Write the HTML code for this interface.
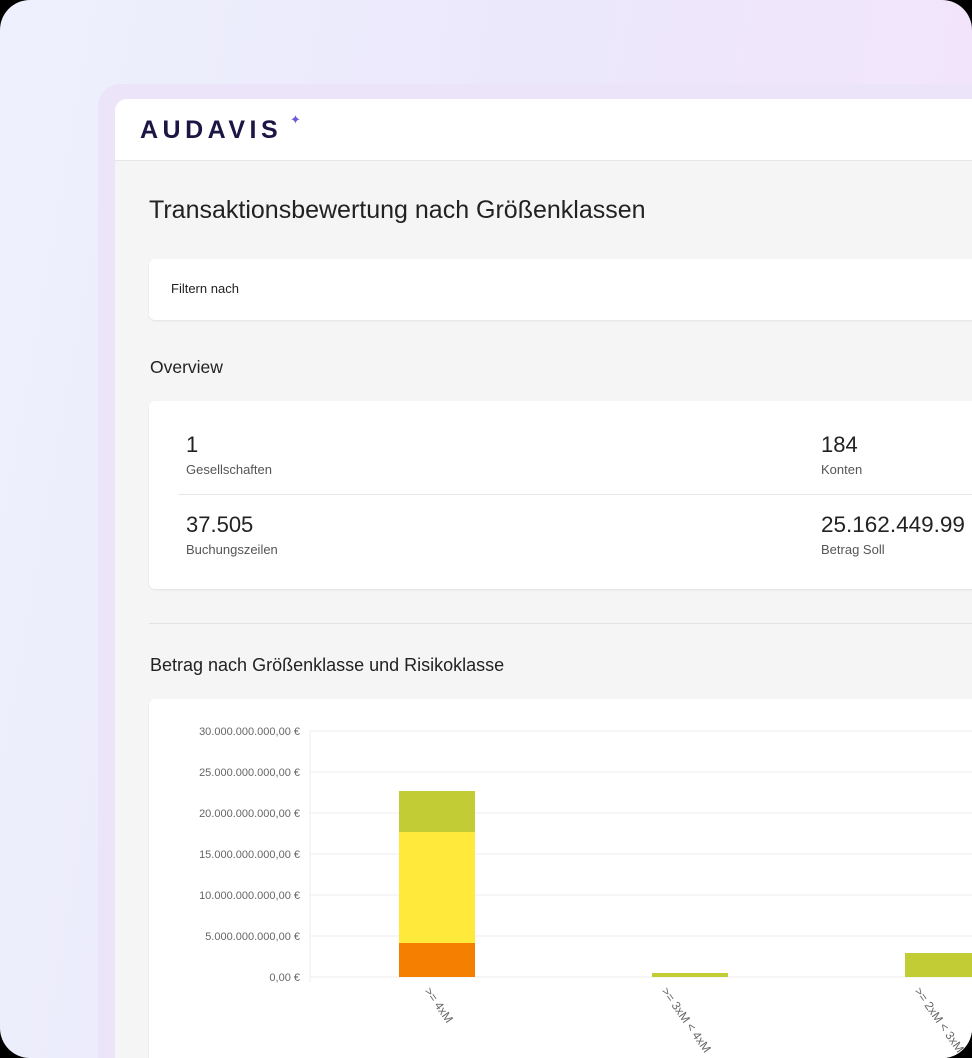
<!DOCTYPE html>
<html><head><meta charset="utf-8"><style>
html,body{margin:0;padding:0;background:#000;}
body{width:972px;height:1058px;position:relative;overflow:hidden;font-family:"Liberation Sans",sans-serif;}
.outer{position:absolute;left:0;top:0;width:972px;height:1058px;border-radius:30px;background:linear-gradient(100deg,#eef1fd 0%,#ebe8fb 45%,#f5e4fb 100%);overflow:hidden;}
.frame{position:absolute;left:98px;top:84px;width:900px;height:1000px;border-radius:22px;background:#ece5fa;}
.header{position:absolute;left:115px;top:99px;width:870px;height:61px;background:#fff;border-radius:12px 0 0 0;border-bottom:1px solid #e6e6e6;}
.content{position:absolute;left:115px;top:161px;width:870px;height:900px;background:#f5f5f5;}
.t{position:absolute;color:#222;white-space:nowrap;}
.card{position:absolute;background:#fff;border-radius:6px;box-shadow:0 1px 2px rgba(0,0,0,.08);}
</style></head><body>
<div class="outer">
<div class="frame"></div>
<div class="header">
<div class="t" style="left:25px;top:17px;font-size:25px;font-weight:bold;color:#1c1645;letter-spacing:4.5px;">AUDAVIS</div>
<div class="t" style="left:175px;top:13px;font-size:13px;color:#6a5ad8;">✦</div>
</div>
<div class="content"></div>
<div class="t" style="left:149px;top:196px;font-size:25px;">Transaktionsbewertung nach Größenklassen</div>
<div class="card" style="left:149px;top:259px;width:840px;height:61px;"></div>
<div class="t" style="left:171px;top:281px;font-size:13px;">Filtern nach</div>
<div class="t" style="left:150px;top:357px;font-size:17.5px;">Overview</div>
<div class="card" style="left:149px;top:401px;width:840px;height:188px;"></div>
<div style="position:absolute;left:178px;top:494px;width:800px;height:1px;background:#e6e6e6;"></div>
<div class="t" style="left:186px;top:432px;font-size:22px;">1</div>
<div class="t" style="left:186px;top:462px;font-size:13px;color:#555;">Gesellschaften</div>
<div class="t" style="left:186px;top:512px;font-size:22px;">37.505</div>
<div class="t" style="left:186px;top:542px;font-size:13px;color:#555;">Buchungszeilen</div>
<div class="t" style="left:821px;top:432px;font-size:22px;">184</div>
<div class="t" style="left:821px;top:462px;font-size:13px;color:#555;">Konten</div>
<div class="t" style="left:821px;top:512px;font-size:22.5px;">25.162.449.99</div>
<div class="t" style="left:821px;top:542px;font-size:13px;color:#555;">Betrag Soll</div>
<div style="position:absolute;left:149px;top:623px;width:840px;height:1px;background:#e2e2e2;"></div>
<div class="t" style="left:150px;top:655px;font-size:18px;">Betrag nach Größenklasse und Risikoklasse</div>
<div class="card" style="left:149px;top:699px;width:840px;height:400px;"></div>
<svg style="position:absolute;left:0;top:0" width="972" height="1058" font-family="Liberation Sans, sans-serif">
<g stroke="#ececec" stroke-width="1">
<line x1="310" y1="731" x2="972" y2="731"/><line x1="310" y1="772" x2="972" y2="772"/><line x1="310" y1="813" x2="972" y2="813"/><line x1="310" y1="854" x2="972" y2="854"/><line x1="310" y1="895" x2="972" y2="895"/><line x1="310" y1="936" x2="972" y2="936"/><line x1="310" y1="977" x2="972" y2="977"/>
<line x1="310" y1="731" x2="310" y2="982"/>
</g>
<g font-size="11" fill="#666" text-anchor="end">
<text x="300" y="735">30.000.000.000,00 €</text><text x="300" y="776">25.000.000.000,00 €</text><text x="300" y="817">20.000.000.000,00 €</text><text x="300" y="858">15.000.000.000,00 €</text><text x="300" y="899">10.000.000.000,00 €</text><text x="300" y="940">5.000.000.000,00 €</text><text x="300" y="981">0,00 €</text>
</g>
<rect x="399" y="943" width="76" height="34" fill="#f47f00"/>
<rect x="399" y="832" width="76" height="111" fill="#ffe93b"/>
<rect x="399" y="791" width="76" height="41" fill="#c2cc35"/>
<rect x="652" y="973" width="76" height="4" fill="#c2cc35"/>
<rect x="905" y="953" width="67" height="24" fill="#c2cc35"/>
<g font-size="12" fill="#666">
<text transform="translate(424,991) rotate(55)">&gt;= 4xM</text>
<text transform="translate(661,991) rotate(55)">&gt;= 3xM &lt; 4xM</text>
<text transform="translate(914,991) rotate(55)">&gt;= 2xM &lt; 3xM</text>
</g>
</svg>
</div>
</body></html>
